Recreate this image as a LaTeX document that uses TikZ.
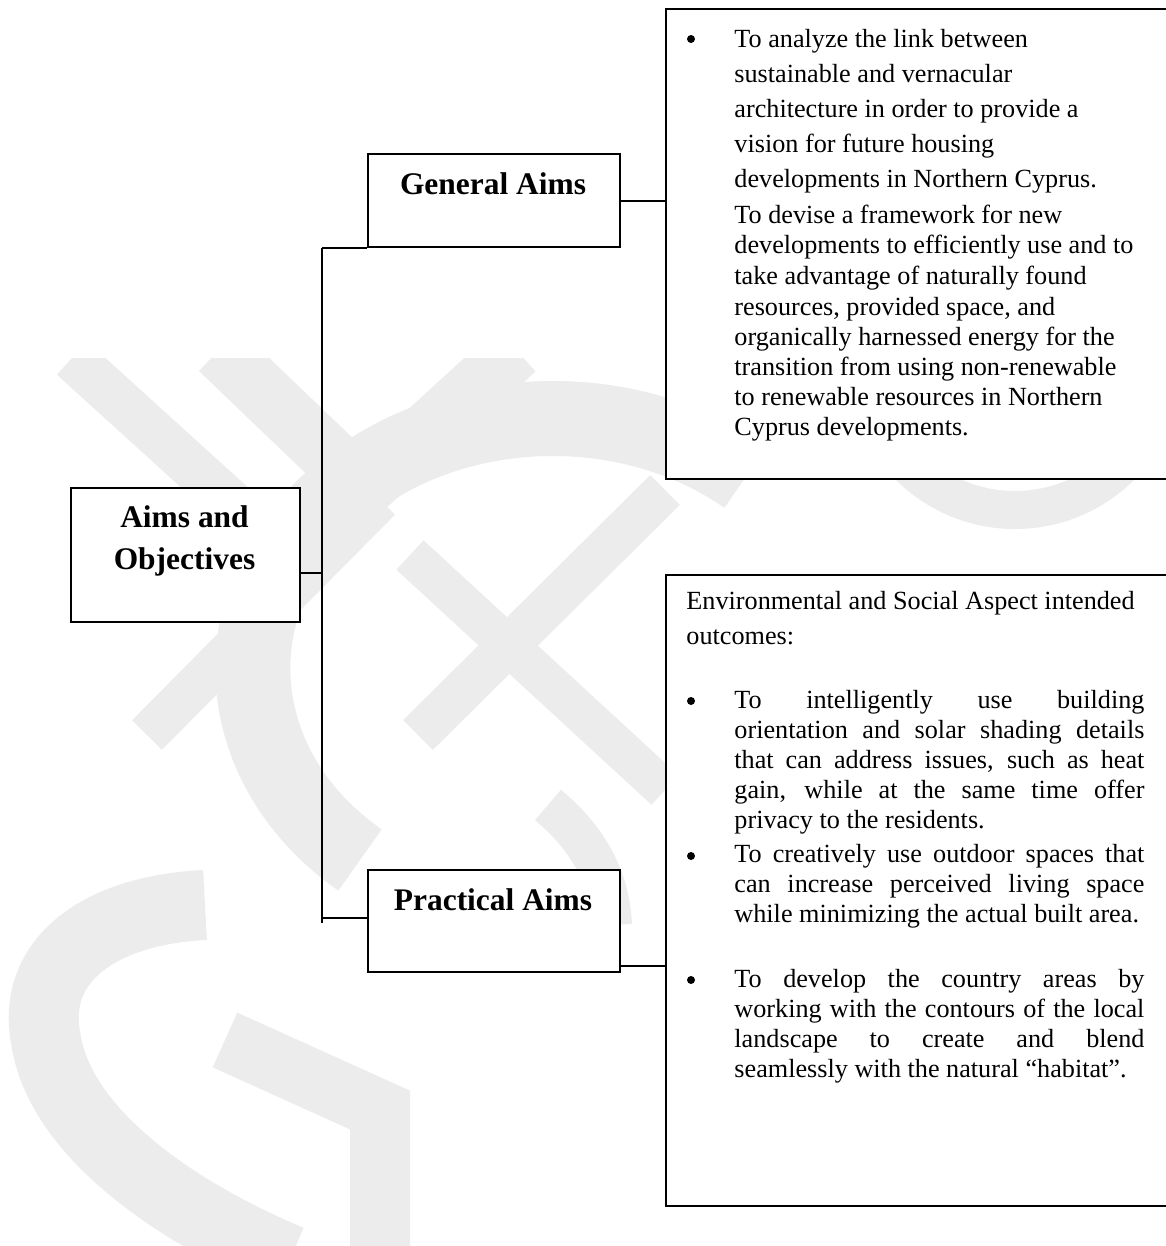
\documentclass[tikz,border=0pt]{standalone}
\usepackage{fontspec}
\setmainfont{Liberation Serif}
\usetikzlibrary{calc}
\newcommand\pxu{0.458pt}
\definecolor{wm}{RGB}{236,236,236}
\hbadness=10000 \tolerance=10000 \pretolerance=10000
\begin{document}
\begin{tikzpicture}[x=0.458pt,y=-0.458pt,
  box/.style={draw, fill=white, line width=1pt, inner sep=0pt, anchor=north west},
  conn/.style={line width=1pt},
  lbl/.style={font=\fontsize{14.4}{18}\selectfont\bfseries, anchor=base, inner sep=0pt},
  body/.style={font=\fontsize{12}{13.74}\selectfont, anchor=base west, inner sep=0pt},
  jbody/.style={body, text width=410*\pxu, align=justify},
  dot/.style={circle, fill=black, inner sep=0pt, minimum size=8*\pxu},
  wmark/.style={draw=wm, line cap=butt, line join=miter},
]
\useasboundingbox (0,0) rectangle (1166,1246);
\fill[white] (0,0) rectangle (1166,1246);
\clip (0,0) rectangle (1166,1246);

% faint background watermark
\begin{scope}
\clip (0,358) rectangle (1166,1246);
\draw[wmark, line width=45*\pxu] (72,358) -- (300,565);
\draw[wmark, line width=58*\pxu] (219,350) -- (364,489) -- (516,350);
\draw[wmark, line width=42*\pxu] (147,735) -- (380,500);
\draw[wmark, line width=42*\pxu] (418,735) -- (665,490);
\draw[wmark, line width=40*\pxu] (410,555) -- (665,790);
\draw[wmark, line width=75*\pxu] (360,860) arc[start angle=130, end angle=310, x radius=300, y radius=250];
\draw[wmark, line width=40*\pxu] (548,805) .. controls (590,840) and (610,880) .. (612,925);
\draw[wmark, line width=70*\pxu] (205,905) .. controls (100,910) and (30,960) .. (46,1040) .. controls (60,1130) and (170,1210) .. (290,1260);
\draw[wmark, line width=60*\pxu] (225,1040) -- (380,1110) -- (380,1260);
\draw[wmark, line width=38*\pxu] (1015,360) circle[radius=150];
\end{scope}

% boxes
\node[box, minimum width=229*\pxu, minimum height=134*\pxu] (aims) at (70,487) {};
\node[box, minimum width=252*\pxu, minimum height=93*\pxu] (gen) at (367,153) {};
\node[box, minimum width=252*\pxu, minimum height=102*\pxu] (prac) at (367,869) {};
\node[box, minimum width=530*\pxu, minimum height=470*\pxu] (topr) at (665,8) {};
\node[box, minimum width=530*\pxu, minimum height=631*\pxu] (botr) at (665,574) {};

% labels
\node[lbl] (aimsT1) at (184.5,527) {Aims and};
\node[lbl] (aimsT2) at (184.5,569) {Objectives};
\node[lbl] (genT) at (493,194) {General Aims};
\node[lbl] (pracT) at (493,910) {Practical Aims};

% connectors
\coordinate (spineTop) at (322,248);
\coordinate (spineBot) at (322,923);
\coordinate (aj) at (322,573);
\coordinate (pj) at (322,918);
\coordinate (pr) at (665,966);
\draw[conn] (spineTop) -- (spineBot);
\draw[conn] (aims.east |- aj) -- (aj);
\draw[conn] (spineTop) -- (spineTop -| gen.west);
\draw[conn] (pj) -- (pj -| prac.west);
\draw[conn] (gen.east) -- (gen.east -| topr.west);
\draw[conn] (prac.east |- pr) -- (pr);

% top right text
\node[dot] (b0) at (691,39) {};
\foreach \y/\t [count=\i] in {
  47/{To analyze the link between},
  82/{sustainable and vernacular},
  117/{architecture in order to provide a},
  152/{vision for future housing},
  187/{developments in Northern Cyprus.},
  223/{To devise a framework for new},
  253/{developments to efficiently use and to},
  284/{take advantage of naturally found},
  315/{resources, provided space, and},
  345/{organically harnessed energy for the},
  375/{transition from using non-renewable},
  405/{to renewable resources in Northern},
  435/{Cyprus developments.}}
  \node[body, name=ga\i] at (734,\y) {\t};

% bottom right text
\node[body] (env1) at (686,609) {Environmental and Social Aspect intended};
\node[body] (env2) at (686,644) {outcomes:};
\node[dot] (b1) at (691,701) {};
\node[jbody] (i1) at (734,708) {To intelligently use building\linebreak
 orientation and solar shading details\linebreak
 that can address issues, such as heat\linebreak
 gain, while at the same time offer\linebreak
 privacy to the residents.};
\node[dot] (b2) at (691,856) {};
\node[jbody] (i2) at (734,862) {To creatively use outdoor spaces that\linebreak
 can increase perceived living space\linebreak
 while minimizing the actual built area.};
\node[dot] (b3) at (691,980) {};
\node[jbody] (i3) at (734,987) {To develop the country areas by\linebreak
 working with the contours of the local\linebreak
 landscape to create and blend\linebreak
 seamlessly with the natural “habitat”.};
\end{tikzpicture}
\end{document}
